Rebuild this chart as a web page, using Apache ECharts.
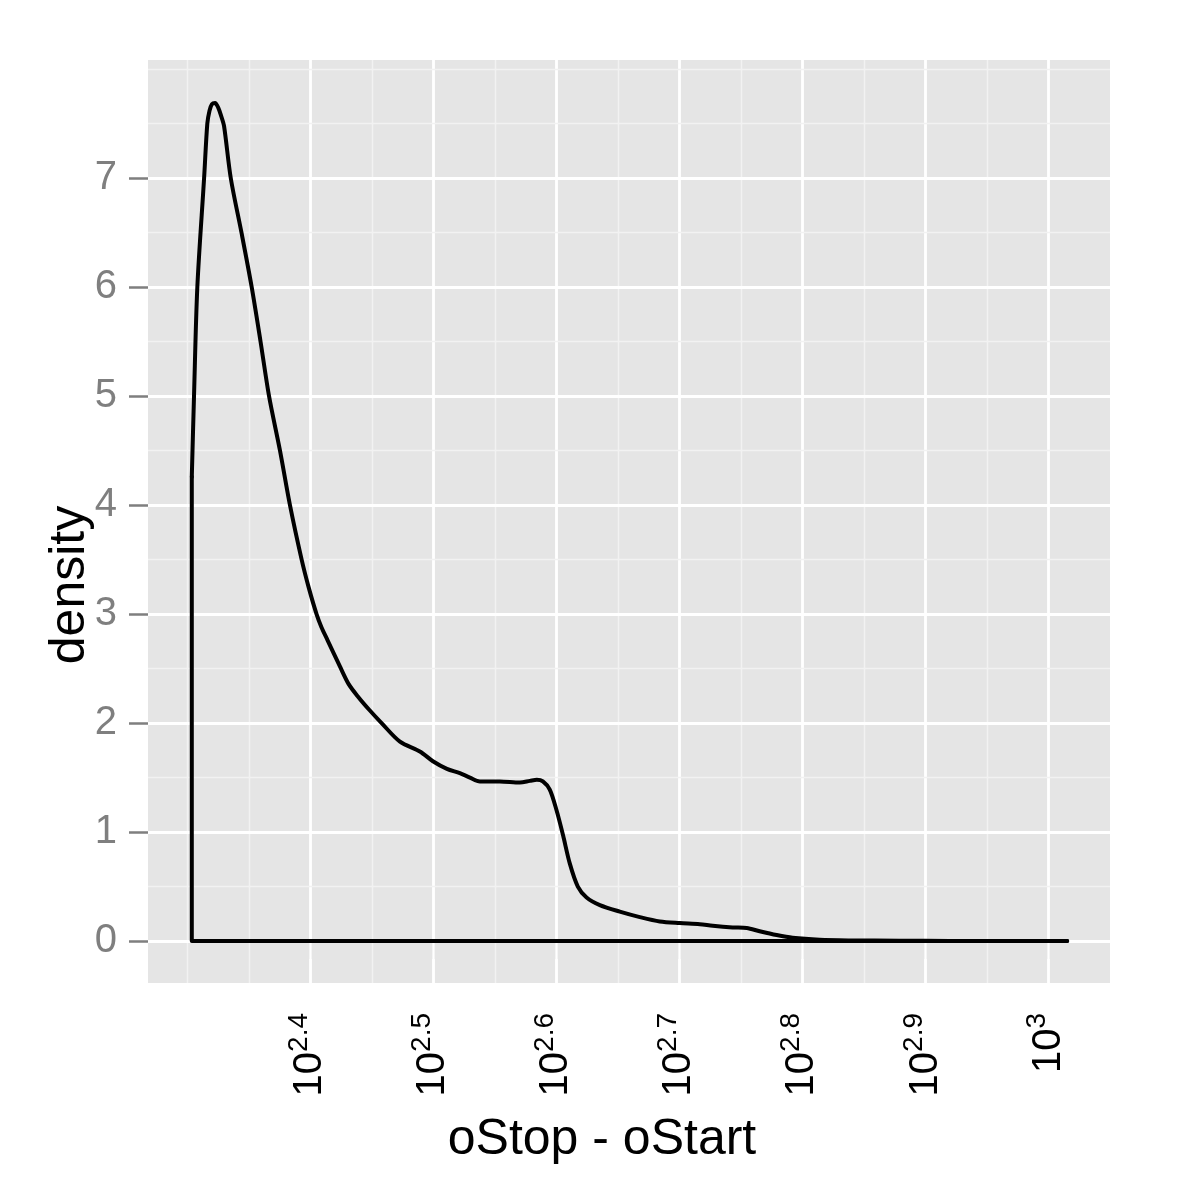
<!DOCTYPE html>
<html><head><meta charset="utf-8">
<script src="https://cdn.jsdelivr.net/npm/echarts@6/dist/echarts.min.js"></script>
<style>html,body{margin:0;padding:0;background:#fff}#c{width:1200px;height:1200px}</style>
</head><body><div id="c"></div>
<script>
// log10(oStop - oStart) along the density curve
const xLog10 = [2.3036,2.3054,2.3081,2.3136,2.3162,2.3180,2.3200,2.3225,2.3250,2.3275,2.3298,2.3353,2.3440,2.3523,2.3595,2.3664,2.3753,2.3834,2.3929,2.3985,2.4050,2.4090,2.4140,2.4240,2.4310,2.4389,2.4480,2.4579,2.4728,2.4890,2.4996,2.5110,2.5215,2.5297,2.5378,2.5540,2.5703,2.5784,2.5841,2.5890,2.5946,2.6001,2.6054,2.6109,2.6174,2.6245,2.6353,2.6515,2.6678,2.6840,2.7002,2.7165,2.7271,2.7433,2.7547,2.7652,2.7790,2.7920,2.8140,2.8383,2.8790,2.9196,2.9602,3.0152];
const density = [4.26,5.0,6.0,7.0,7.5,7.62,7.68,7.69,7.65,7.57,7.48,7.0,6.5,6.0,5.5,5.0,4.5,4.0,3.5,3.25,3.0,2.88,2.76,2.52,2.36,2.24,2.12,2.0,1.83,1.74,1.65,1.58,1.54,1.50,1.465,1.465,1.455,1.47,1.48,1.465,1.39,1.20,0.97,0.71,0.50,0.40,0.33,0.27,0.22,0.18,0.165,0.155,0.14,0.125,0.12,0.09,0.055,0.03,0.012,0.006,0.003,0.001,0.0005,0];
const xTickValues = [2.4,2.5,2.6,2.7,2.8,2.9,3.0];
const xTickExponents = ['2.4','2.5','2.6','2.7','2.8','2.9','3'];
const yTickValues = [0,1,2,3,4,5,6,7];
const xMinorGrid = [2.3,2.35288,2.45288,2.55288,2.65288,2.75288,2.85288,2.95288];
const yMinorGrid = [0.5,1.5,2.5,3.5,4.5,5.5,6.5,7.5,8];

const FONT = '"Liberation Sans", Arial, Helvetica, sans-serif';
const curve = xLog10.map((x, i) => [x, density[i]]);
// closing edges of the density polygon: up the left edge, and the baseline back from the right end
const closure = [[xLog10[0], density[0]], [xLog10[0], 0], [xLog10[xLog10.length - 1], 0]];

const major = {color:'#ffffff', width:2.8, type:'solid'};
const minor = {color:'#f2f2f2', width:1.4, type:'solid'};
const gridLines = [];
xTickValues.forEach(v => gridLines.push({xAxis: v, lineStyle: major}));
xMinorGrid.forEach(v => gridLines.push({xAxis: v, lineStyle: minor}));
yTickValues.forEach(v => gridLines.push({yAxis: v, lineStyle: major}));
yMinorGrid.forEach(v => gridLines.push({yAxis: v, lineStyle: minor}));

const chart = echarts.init(document.getElementById('c'), null, {renderer:'canvas'});
chart.setOption({
  animation: false,
  backgroundColor: '#ffffff',
  grid: {left:148, top:60, right:90, bottom:217, show:true, backgroundColor:'#e5e5e5', borderWidth:0, containLabel:false, outerBoundsMode:'none'},
  xAxis: {
    type:'value', min:2.268, max:3.05,
    axisLine:{show:false}, splitLine:{show:false},
    axisTick:{show:true, customValues:xTickValues, length:18, lineStyle:{color:'#7f7f7f', width:2.5}},
    axisLabel:{
      customValues:xTickValues, rotate:90, margin:30, color:'#000',
      formatter: function(v){
        let idx = 0, best = 1e9;
        xTickValues.forEach((t,i)=>{ if (Math.abs(t-v) < best){best=Math.abs(t-v); idx=i;} });
        return '{b|10}{s|' + xTickExponents[idx] + '}';
      },
      rich:{
        b:{fontSize:40, fontFamily:FONT, color:'#000', lineHeight:50, verticalAlign:'middle'},
        s:{fontSize:28, fontFamily:FONT, color:'#000', verticalAlign:'top'}
      }
    }
  },
  yAxis: {
    type:'value', min:-0.385, max:8.085,
    axisLine:{show:false}, splitLine:{show:false},
    axisTick:{show:true, customValues:yTickValues, length:19, lineStyle:{color:'#7f7f7f', width:2.5}},
    axisLabel:{customValues:yTickValues, margin:31, fontSize:40, color:'#7f7f7f', fontFamily:FONT}
  },
  graphic: [
    {type:'text', x:602, y:1140, style:{text:'oStop - oStart', font:'50px ' + FONT, fill:'#000', align:'center', verticalAlign:'middle'}},
    {type:'text', x:70, y:585, rotation:Math.PI/2, style:{text:'density', font:'50px ' + FONT, fill:'#000', align:'center', verticalAlign:'middle'}}
  ],
  series: [
    {type:'line', data:[], z:1, silent:true,
     markLine:{silent:true, z:1, symbol:['none','none'], label:{show:false}, animation:false, data:gridLines}},
    {type:'line', data:closure, z:3, showSymbol:false, symbol:'none', smooth:false, silent:true,
     lineStyle:{color:'#000', width:4, join:'round', cap:'round'}},
    {type:'line', data:curve, z:3, showSymbol:false, symbol:'none', smooth:0.3, silent:true,
     lineStyle:{color:'#000', width:4, join:'round', cap:'round'}}
  ]
});
</script></body></html>
